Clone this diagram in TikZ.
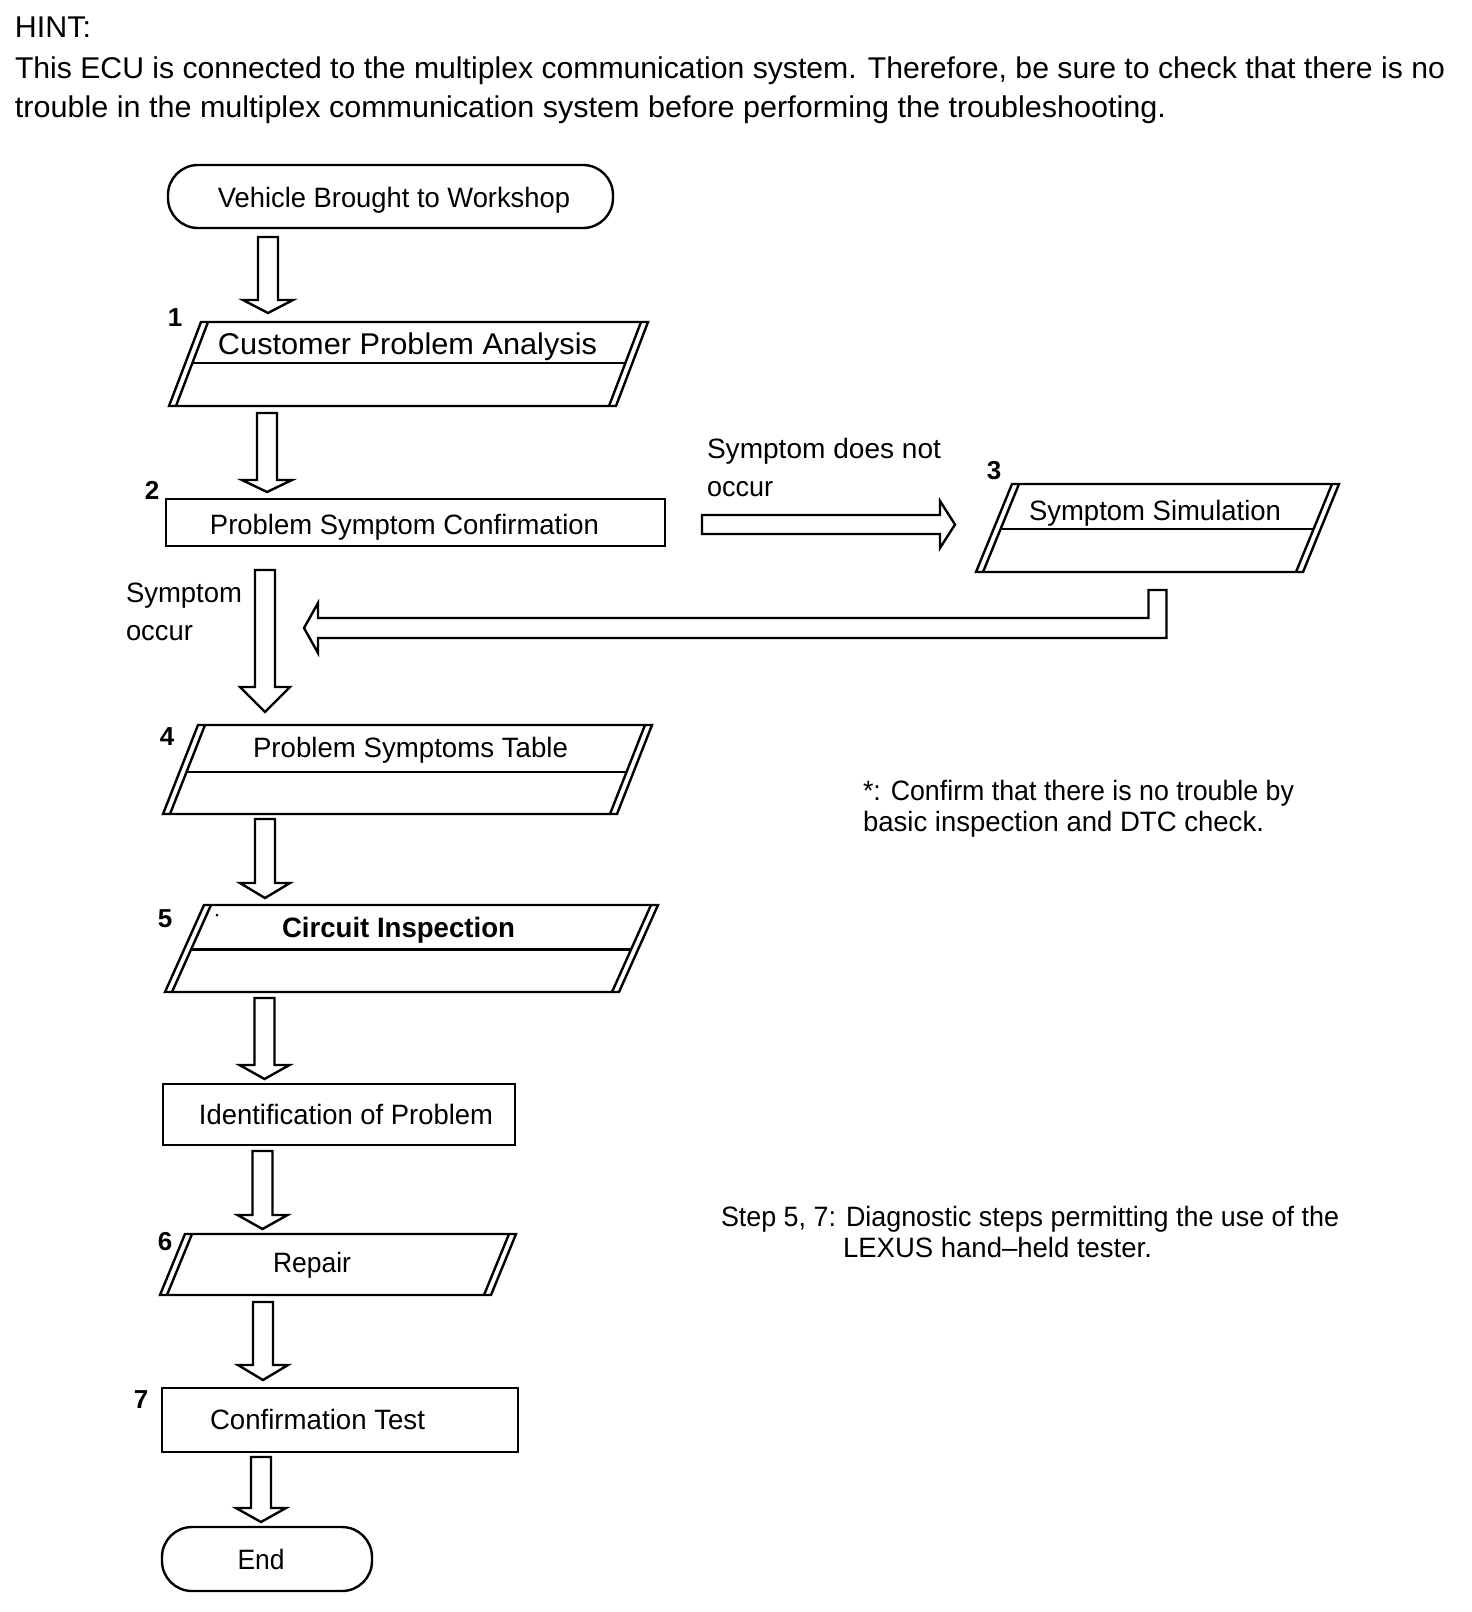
\documentclass[tikz,border=0pt]{standalone}
\usepackage{fontspec}
\setmainfont{Liberation Sans}
\usepackage{graphicx}
\usetikzlibrary{calc}
\newcommand\fitw[2]{\resizebox{#1pt}{\height}{#2}}
\tikzset{
 ln/.style={line width=2.4pt, line join=miter},
 blk/.style={ln, fill=white},
 txt/.style={inner sep=0pt, outer sep=0pt, anchor=base, font=\fontsize{28}{34}\selectfont},
 txtl/.style={txt, anchor=base west},
 hdr/.style={txtl, font=\fontsize{30}{36}\selectfont},
 num/.style={txt, font=\fontsize{26}{30}\selectfont\bfseries},
 rbox/.style={draw, ln, inner sep=0pt, outer sep=0pt},
 term/.style={rbox, rounded corners=30pt},
}
% parallelogram box: name, BL x, TR x, top y, bottom y, slant
\newcommand\parabox[6]{%
  \node[inner sep=0pt,outer sep=0pt,minimum width={#3-#2},minimum height={#5-#4}] (#1) at ({(#2+#3)/2},{(#4+#5)/2}) {};
  \coordinate (#1-tl) at ([xshift=#6pt]#1.north west);
  \coordinate (#1-tr) at (#1.north east);
  \coordinate (#1-br) at ([xshift=-#6pt]#1.south east);
  \coordinate (#1-bl) at (#1.south west);
  \coordinate (#1-tli) at ([xshift={#6pt+7pt}]#1.north west);
  \coordinate (#1-bli) at ([xshift=7pt]#1.south west);
  \coordinate (#1-tri) at ([xshift=-7pt]#1.north east);
  \coordinate (#1-bri) at ([xshift={-#6pt-7pt}]#1.south east);
  \draw[ln] (#1-tl) -- (#1-tr) -- (#1-br) -- (#1-bl) -- cycle;
  \draw[ln] (#1-tli) -- (#1-bli) (#1-tri) -- (#1-bri);
}
\newcommand\pdivide[2]{\draw[ln] ($(#1-tli)!#2!(#1-bli)$) -- ($(#1-tri)!#2!(#1-bri)$);}
% block arrow down: x, from, to, top gap, tip gap, head length
\newcommand\blkdown[6]{%
  \draw[blk] let \p1=(#2.south), \p2=(#3.north) in
   ({#1pt-10pt},{\y1-#4pt}) -- ({#1pt+10pt},{\y1-#4pt}) -- ({#1pt+10pt},{\y2+#5pt+#6pt})
   -- ({#1pt+25pt},{\y2+#5pt+#6pt}) -- ({#1pt},{\y2+#5pt}) -- ({#1pt-25pt},{\y2+#5pt+#6pt})
   -- ({#1pt-10pt},{\y2+#5pt+#6pt}) -- cycle;}
\begin{document}
\begin{tikzpicture}[x=1pt,y=-1pt]
\useasboundingbox (0,0) rectangle (1472,1612);
\fill[white] (0,0) rectangle (1472,1612);

% header
\node[hdr] (hint) at (15,37) {\fitw{76}{HINT:}};
\node[hdr] (h1) at (15,78) {\fitw{1430}{This ECU is connected to the multiplex communication system. Therefore, be sure to check that there is no}};
\node[hdr] (h2) at (15,117) {\fitw{1151}{trouble in the multiplex communication system before performing the troubleshooting.}};

% boxes
\node[term, minimum width=445pt, minimum height=63pt] (start) at (390.5,196.5) {};
\node[txt] (tstart) at (394,207) {\fitw{352}{Vehicle Brought to Workshop}};

\parabox{b1}{169}{648}{322}{406}{32}
\pdivide{b1}{0.49}
\node[txt, font=\fontsize{30}{36}\selectfont] (tb1) at (407.5,354) {\fitw{379}{Customer Problem Analysis}};
\node[num] (n1) at (175,326) {1};

\node[rbox, minimum width=499pt, minimum height=47pt] (b2) at (415.5,522.5) {};
\node[txt] (tb2) at (404.5,534) {\fitw{389}{Problem Symptom Confirmation}};
\node[num] (n2) at (152,499) {2};

\parabox{b3}{976}{1339}{484}{572}{36}
\pdivide{b3}{0.51}
\node[txt] (tb3) at (1155,520) {\fitw{252}{Symptom Simulation}};
\node[num] (n3) at (994,479) {3};

\node[txtl] (sdn1) at (707,458) {\fitw{234}{Symptom does not}};
\node[txtl] (sdn2) at (707,496) {\fitw{66}{occur}};
\node[txtl] (so1) at (126,602) {\fitw{116}{Symptom}};
\node[txtl] (so2) at (126,640) {\fitw{67}{occur}};

\parabox{b4}{163}{652}{725}{814}{35}
\pdivide{b4}{0.53}
\node[txt] (tb4) at (410.5,757) {\fitw{315}{Problem Symptoms Table}};
\node[num] (n4) at (167,745) {4};

\parabox{b5}{165}{658}{905}{992}{39}
\pdivide{b5}{0.51}
\node[txt, font=\fontsize{28}{34}\selectfont\bfseries] (tb5) at (398.5,937) {\fitw{233}{Circuit Inspection}};
\node[num] (n5) at (165,927) {5};
\fill (217,915) circle (1.5pt);

\node[rbox, minimum width=352pt, minimum height=61pt] (ident) at (339,1114.5) {};
\node[txt] (tident) at (346,1124) {\fitw{294}{Identification of Problem}};

\parabox{b6}{160}{516}{1234}{1295}{25}
\node[txt] (tb6) at (312,1272) {\fitw{78}{Repair}};
\node[num] (n6) at (165,1250) {6};

\node[rbox, minimum width=356pt, minimum height=64pt] (b7) at (340,1420) {};
\node[txt] (tb7) at (317.5,1429) {\fitw{215}{Confirmation Test}};
\node[num] (n7) at (141,1408) {7};

\node[term, minimum width=210pt, minimum height=64pt] (fin) at (267,1559) {};
\node[txt] (tfin) at (261,1569) {\fitw{47}{End}};

% notes
\node[txtl] (nt1) at (863,800) {\fitw{431}{*: Confirm that there is no trouble by}};
\node[txtl] (nt2) at (863,831) {\fitw{401}{basic inspection and DTC check.}};
\node[txtl] (st1) at (721,1226) {\fitw{618}{Step 5, 7: Diagnostic steps permitting the use of the}};
\node[txtl] (st2) at (843,1257) {\fitw{309}{LEXUS hand–held tester.}};

% arrows
\blkdown{268}{start}{b1}{9}{9}{13}
\blkdown{267}{b1}{b2}{7}{7}{12}
\blkdown{265}{b2}{b4}{24}{13}{25}
\blkdown{265}{b4}{b5}{5}{7}{15}
\blkdown{264.5}{b5}{ident}{6}{5}{14}
\blkdown{262.5}{ident}{b6}{6}{5}{14}
\blkdown{263}{b6}{b7}{7}{8}{15}
\blkdown{261}{b7}{fin}{5}{5}{14}

% right arrow b2 -> b3
\draw[blk] let \p1=(b2.east), \p2=(b3.west) in
  ({\x1+37pt},-515pt) -- ({\x2-36pt},-515pt) -- ({\x2-36pt},-501pt) -- ({\x2-21pt},-524.5pt)
  -- ({\x2-36pt},-548pt) -- ({\x2-36pt},-534pt) -- ({\x1+37pt},-534pt) -- cycle;

% return arrow b3 -> main flow
\coordinate (rtip) at (304,628);
\draw[blk] let \p1=(b3.south), \p2=(rtip) in
  ({\x1-9pt},{\y1-18pt}) -- ({\x1+9pt},{\y1-18pt}) -- ({\x1+9pt},{\y2-10pt}) -- ({\x2+14pt},{\y2-10pt})
  -- ({\x2+14pt},{\y2-25pt}) -- (rtip) -- ({\x2+14pt},{\y2+25pt}) -- ({\x2+14pt},{\y2+10pt})
  -- ({\x1-9pt},{\y2+10pt}) -- cycle;
\end{tikzpicture}
\end{document}
